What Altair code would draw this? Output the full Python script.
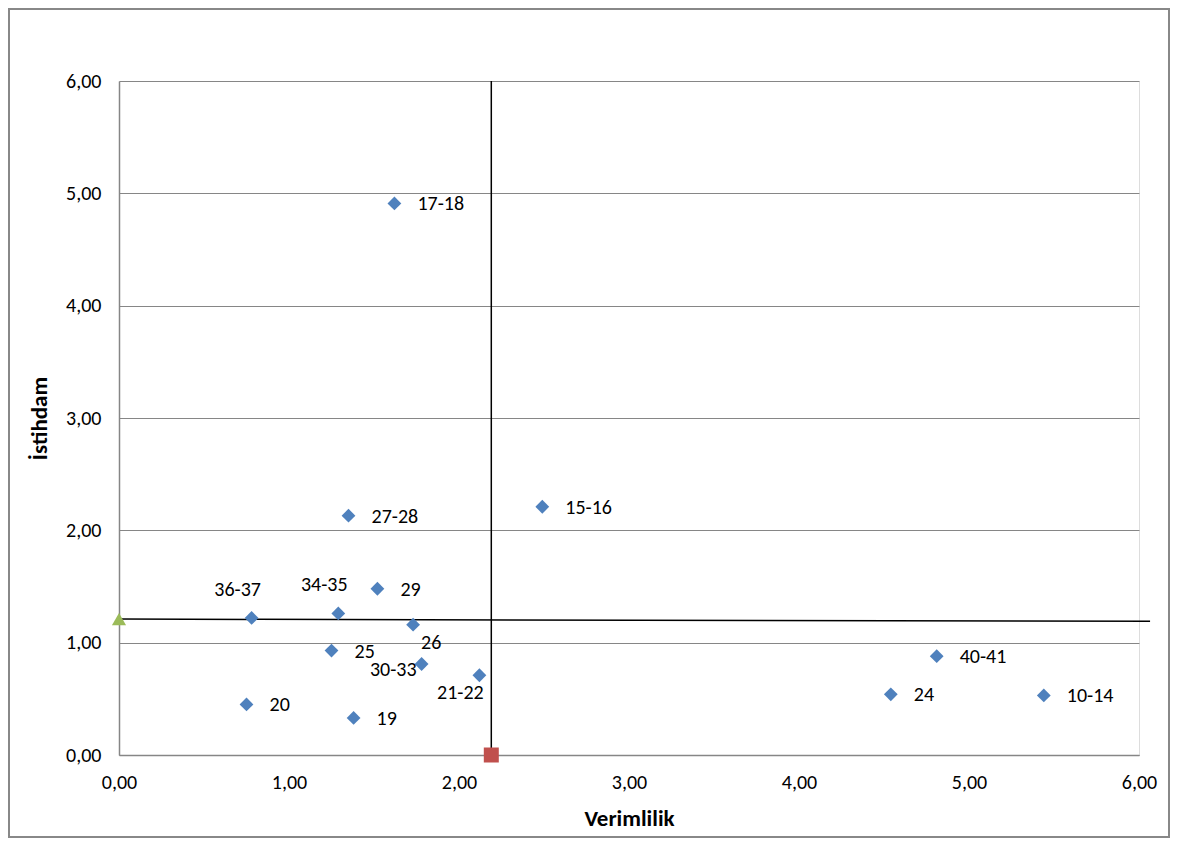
import altair as alt
import pandas as pd

# ---- data ----
labels = ["17-18", "15-16", "27-28", "29", "34-35", "36-37", "26", "25",
          "30-33", "21-22", "20", "19", "40-41", "24", "10-14"]
verimlilik = [1.62, 2.49, 1.35, 1.52, 1.29, 0.78, 1.73, 1.25,
              1.78, 2.12, 0.75, 1.38, 4.81, 4.54, 5.44]
istihdam = [4.91, 2.21, 2.13, 1.48, 1.26, 1.22, 1.16, 0.93,
            0.81, 0.71, 0.45, 0.33, 0.88, 0.54, 0.53]
placement = ["right", "right", "right", "right", "aboveleft", "aboveleft",
             "belowright", "right", "left", "belowleft", "right", "right",
             "right", "right", "right"]

avg_x = [2.19]            # red square
avg_y = [0.0]
ref_x = [0.0]             # green triangle
ref_y = [1.21]

hline_x = [0.0, 6.065]
hline_y = [1.21, 1.19]
vline_x = [2.19, 2.19]
vline_y = [0.0, 6.0]

tick_values = [0, 1, 2, 3, 4, 5, 6]

FONT = "Carlito, Lato, sans-serif"

df = pd.DataFrame({"x": verimlilik, "y": istihdam, "label": labels, "pos": placement})
df_avg = pd.DataFrame({"x": avg_x, "y": avg_y})
df_ref = pd.DataFrame({"x": ref_x, "y": ref_y})
df_h = pd.DataFrame({"x": hline_x, "y": hline_y})
df_v = pd.DataFrame({"x": vline_x, "y": vline_y})

label_expr = "replace(format(datum.value, '.2f'), '.', ',')"

xscale = alt.Scale(domain=[0, 6], nice=False, zero=False)
yscale = alt.Scale(domain=[0, 6], nice=False, zero=False)

xaxis = alt.Axis(values=tick_values, labelExpr=label_expr, grid=False, ticks=False,
                 labelFlush=False, labelOverlap=False,
                 domainColor="#868686", domainWidth=1.5, labelFontSize=20, labelFont=FONT,
                 labelColor="#000000", labelPadding=17, title="Verimlilik",
                 titleFontSize=23, titleFont=FONT, titleFontWeight="bold",
                 titleColor="#000000", titlePadding=15)
yaxis = alt.Axis(values=tick_values, labelExpr=label_expr, grid=True, gridColor="#868686",
                 gridWidth=1, ticks=False, domainColor="#868686", domainWidth=1.5,
                 labelFlush=False, labelOverlap=False,
                 labelFontSize=20, labelFont=FONT, labelColor="#000000", labelPadding=18,
                 title="İstihdam", titleFontSize=23, titleFont=FONT,
                 titleFontWeight="bold", titleColor="#000000", titlePadding=14)

base_x = alt.X("x:Q", scale=xscale, axis=xaxis)
base_y = alt.Y("y:Q", scale=yscale, axis=yaxis)

frame = alt.Chart(pd.DataFrame({"a": [0]})).mark_rect(
    fillOpacity=0, stroke="#888888", strokeWidth=2, clip=False
).encode(x=alt.value(-110), x2=alt.value(1050), y=alt.value(-72), y2=alt.value(756))

hline = alt.Chart(df_h).mark_line(color="black", strokeWidth=1.5, clip=False).encode(
    x=base_x, y=base_y)
vline = alt.Chart(df_v).mark_line(color="black", strokeWidth=1.5, clip=False).encode(
    x=alt.X("x:Q", scale=xscale), y=alt.Y("y:Q", scale=yscale))

points = alt.Chart(df).mark_point(shape="diamond", filled=True, size=190,
                                  color="#4F81BD", opacity=1).encode(
    x=alt.X("x:Q", scale=xscale), y=alt.Y("y:Q", scale=yscale))

avg = alt.Chart(df_avg).mark_point(shape="square", filled=True, size=225,
                                   color="#C0504D", opacity=1, clip=False).encode(
    x=alt.X("x:Q", scale=xscale), y=alt.Y("y:Q", scale=yscale))
ref = alt.Chart(df_ref).mark_point(shape="triangle-up", filled=True, size=200,
                                   color="#9BBB59", opacity=1, clip=False).encode(
    x=alt.X("x:Q", scale=xscale), y=alt.Y("y:Q", scale=yscale))

def text_layer(pos, **kw):
    return alt.Chart(df).transform_filter(alt.datum.pos == pos).mark_text(
        font=FONT, fontSize=20, color="black", **kw
    ).encode(x=alt.X("x:Q", scale=xscale), y=alt.Y("y:Q", scale=yscale), text="label:N")

t_right = text_layer("right", align="left", baseline="middle", dx=23, dy=1)
t_al = text_layer("aboveleft", align="center", baseline="middle", dx=-14, dy=-28)
t_br = text_layer("belowright", align="left", baseline="middle", dx=8, dy=18)
t_l = text_layer("left", align="right", baseline="middle", dx=-5, dy=6)
t_bl = text_layer("belowleft", align="center", baseline="middle", dx=-19, dy=18)

chart = alt.layer(
    frame, hline, vline, points, avg, ref, t_right, t_al, t_br, t_l, t_bl
).properties(
    width=1020, height=674,
    autosize=alt.AutoSizeParams(type="none"),
    padding={"left": 111, "top": 73, "right": 31, "bottom": 83},
).configure_view(stroke="transparent", strokeWidth=0).configure(background="white")

chart.save("out.html", embed_options={"renderer": "svg", "actions": False})
